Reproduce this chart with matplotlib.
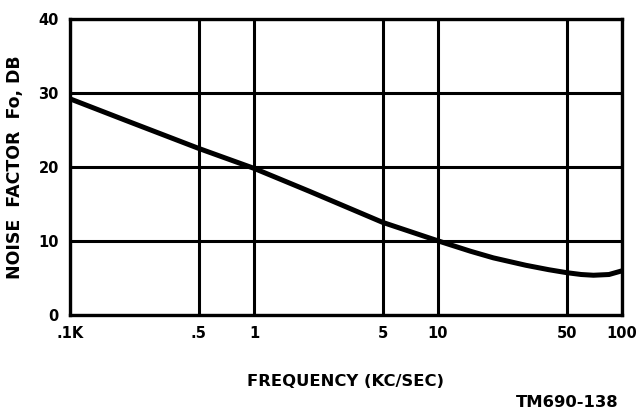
"""Noise factor vs frequency, redrawn from the TM690-138 figure."""
import matplotlib
matplotlib.use("Agg")
import matplotlib.pyplot as plt
from matplotlib.ticker import FixedLocator, NullLocator


# Values
freq_kc = [0.1, 0.2, 0.5, 1, 2, 5, 10, 15, 20, 30, 40, 50, 60, 70, 85, 100]
noise_db = [29.2, 26.3, 22.5, 19.8, 16.7, 12.5, 10.0, 8.6, 7.7, 6.7, 6.1, 5.7, 5.45, 5.35, 5.45, 5.95]

x_ticks = [0.1, 0.5, 1, 5, 10, 50, 100]
x_tick_labels = [".1K", ".5", "1", "5", "10", "50", "100"]
y_ticks = [0, 10, 20, 30, 40]


def main():
    plt.rcParams["font.family"] = ["DejaVu Sans"]
    plt.rcParams["font.weight"] = "bold"

    fig = plt.figure(figsize=(6.36, 4.11), dpi=100)
    ax = fig.add_axes([0.110, 0.234, 0.868, 0.720])

    ax.set_xscale("log")
    ax.set_xlim(0.1, 100)
    ax.set_ylim(0, 40)

    ax.xaxis.set_major_locator(FixedLocator(x_ticks))
    ax.xaxis.set_minor_locator(NullLocator())
    ax.set_xticklabels(x_tick_labels)
    ax.set_yticks(y_ticks)

    # heavy grid like the printed original
    ax.grid(True, color="black", linewidth=2.2)
    for s in ax.spines.values():
        s.set_linewidth(2.4)

    ax.tick_params(length=0, labelsize=10.5, pad=8)
    for lbl in ax.get_xticklabels() + ax.get_yticklabels():
        lbl.set_fontweight("bold")

    ax.plot(freq_kc, noise_db, color="black", linewidth=3.6, solid_capstyle="butt")

    ax.set_ylabel("NOISE  FACTOR  Fo, DB", fontsize=12.5, fontweight="bold", labelpad=10)
    ax.set_xlabel("FREQUENCY (KC/SEC)", fontsize=11.8, fontweight="bold", labelpad=24)

    fig.text(0.972, 0.003, "TM690-138", ha="right", va="bottom",
             fontsize=11.8, fontweight="bold")

    fig.savefig("out.png", dpi=100)


if __name__ == "__main__":
    main()
